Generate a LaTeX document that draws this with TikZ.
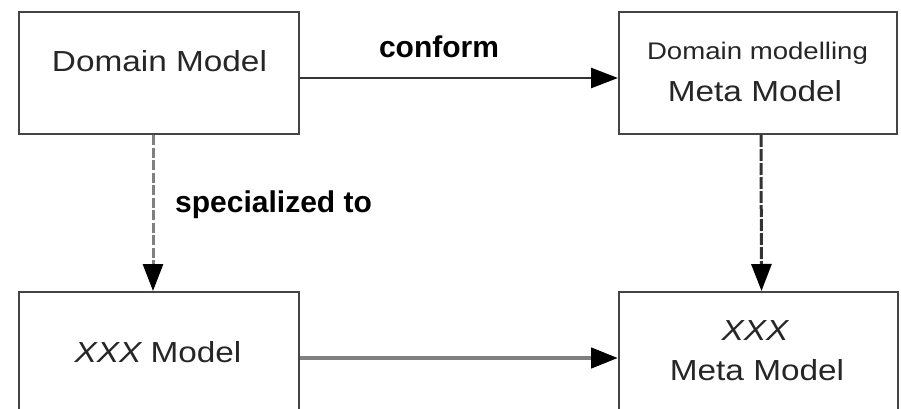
\documentclass[tikz,border=0pt]{standalone}
\usepackage{fontspec}
\setmainfont{Liberation Sans}
\newfontfamily\boxfont[FakeStretch=1.15]{Liberation Sans}
\usetikzlibrary{arrows.meta}
\definecolor{edgegray}{HTML}{454545}
\definecolor{linedark}{HTML}{333333}
\definecolor{linegray}{HTML}{808080}
\begin{document}
\begin{tikzpicture}[x=1pt,y=1pt,
  box/.style={draw=edgegray, line width=2pt, fill=white, rectangle, inner sep=0pt},
  bigtext/.style={inner sep=0pt, anchor=base, font=\boxfont\fontsize{29}{34}\selectfont, text=black!85},
  smalltext/.style={inner sep=0pt, anchor=base, font=\boxfont\fontsize{24}{28}\selectfont, text=black!85},
  edgelabel/.style={inner sep=0pt, font=\bfseries\fontsize{30}{34}\selectfont, text=black},
  tip/.style={-{Triangle[length=27pt,width=20pt,color=black]}},
  conformline/.style={tip, draw=linedark, line width=2.5pt},
  plainline/.style={tip, draw=linegray, line width=4.5pt},
  specline/.style={tip, draw=linegray, line width=3pt, dash pattern=on 10pt off 2.5pt},
  metaline/.style={tip, draw=linedark, line width=3pt, dash pattern=on 12pt off 2pt}]
  \clip (0,0) rectangle (901,-409);
  \useasboundingbox (0,0) rectangle (901,-409);

  % the four model boxes (the lower pair runs past the bottom edge)
  \node[box, minimum width=280pt, minimum height=122pt] (dm)  at (159,-73)  {};
  \node[box, minimum width=278pt, minimum height=122pt] (mm)  at (758,-73)  {};
  \node[box, minimum width=280pt, minimum height=132pt] (xm)  at (159,-358) {};
  \node[box, minimum width=279pt, minimum height=132pt] (xmm) at (758.5,-358) {};

  % box texts
  \node[bigtext]   (dmtext)   at (159.5,-72) {Domain Model};
  \node[smalltext] (mmtopt)   at (757.5,-60) {Domain modelling};
  \node[bigtext]   (mmbott)   at (755,-102)  {Meta Model};
  \node[bigtext]   (xmtext)   at (158,-362)  {\itshape XXX\upshape{} Model};
  \node[bigtext]   (xmmtopt)  at (755,-340)  {\itshape XXX};
  \node[bigtext]   (xmmbott)  at (757,-380)  {Meta Model};

  % connectors
  \draw[conformline] ([yshift=-5pt]dm.east) -- ([yshift=-5pt]mm.west);
  \draw[plainline]   (xm.east) -- (xmm.west);
  \draw[specline]    ([xshift=-6pt]dm.south) -- ([xshift=-6pt]xm.north);
  \draw[metaline]    ([xshift=3pt]mm.south) -- ([xshift=3pt]xmm.north);

  % connector labels
  \node[edgelabel, anchor=base] (conformlbl) at (439,-58) {conform};
  \node[edgelabel, anchor=base west] (speclbl) at (175,-212) {specialized to};
\end{tikzpicture}
\end{document}
